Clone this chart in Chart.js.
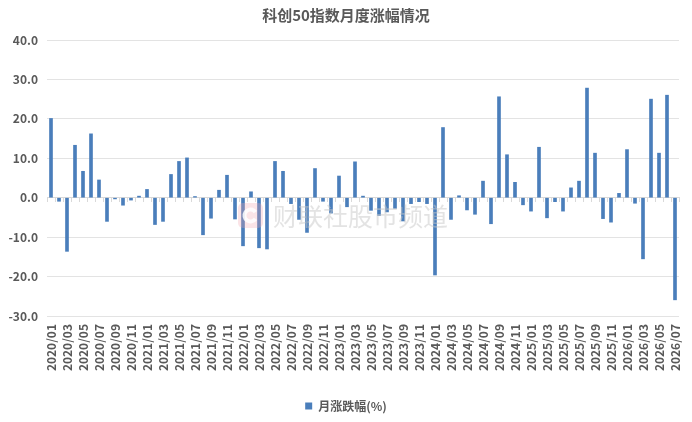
<!DOCTYPE html>
<html>
<head>
<meta charset="utf-8">
<script src="https://cdn.jsdelivr.net/npm/chart.js@4.4.1/dist/chart.umd.min.js"></script>
<style>
  html, body { margin: 0; padding: 0; background: #fff; }
  #wrap { width: 692px; height: 422px; position: relative; }
</style>
</head>
<body>
<div id="wrap"><canvas id="myChart"></canvas></div>
<script>
const months = [
  "2020/01", "2020/02", "2020/03", "2020/04", "2020/05", "2020/06", "2020/07", "2020/08", "2020/09", "2020/10", "2020/11", "2020/12",
  "2021/01", "2021/02", "2021/03", "2021/04", "2021/05", "2021/06", "2021/07", "2021/08", "2021/09", "2021/10", "2021/11", "2021/12",
  "2022/01", "2022/02", "2022/03", "2022/04", "2022/05", "2022/06", "2022/07", "2022/08", "2022/09", "2022/10", "2022/11", "2022/12",
  "2023/01", "2023/02", "2023/03", "2023/04", "2023/05", "2023/06", "2023/07", "2023/08", "2023/09", "2023/10", "2023/11", "2023/12",
  "2024/01", "2024/02", "2024/03", "2024/04", "2024/05", "2024/06", "2024/07", "2024/08", "2024/09", "2024/10", "2024/11", "2024/12",
  "2025/01", "2025/02", "2025/03", "2025/04", "2025/05", "2025/06", "2025/07", "2025/08", "2025/09", "2025/10", "2025/11", "2025/12",
  "2026/01", "2026/02", "2026/03", "2026/04", "2026/05", "2026/06", "2026/07",
];

// monthly change, %
const monthlyChange = [
  20.1, -0.9, -13.6, 13.3, 6.7, 16.2, 4.5, -6.0, -0.3, -1.9, -0.6, 0.4,
  2.1, -6.8, -6.0, 5.9, 9.2, 10.1, 0.3, -9.4, -5.2, 1.9, 5.7, -5.4,
  -12.2, 1.5, -12.7, -13.0, 9.2, 6.7, -1.5, -5.5, -8.8, 7.4, -0.9, -3.9,
  5.5, -2.3, 9.1, 0.4, -3.2, -4.5, -3.6, -2.7, -5.9, -1.5, -1.0, -1.5,
  -19.6, 17.8, -5.5, 0.5, -3.1, -4.2, 4.2, -6.6, 25.6, 10.9, 3.9, -1.8,
  -3.4, 12.8, -5.1, -1.0, -3.4, 2.5, 4.2, 27.8, 11.3, -5.3, -6.2, 1.1,
  12.2, -1.4, -15.5, 25.0, 11.3, 26.0, -25.9,
];

const yTicks = { min: -30, max: 40, step: 10 };

const txtColor = "#595959";
const gridColor = "#e3e3e3";
const barColor = "#4a7ebb";
const cjkFont = "'Noto Sans CJK SC', 'Noto Sans', sans-serif";

// faint watermark like the source image
const watermark = {
  id: "watermark",
  afterDatasetsDraw(chart) {
    const ctx = chart.ctx;
    ctx.save();
    ctx.globalAlpha = 0.3;
    ctx.fillStyle = "#f2a7b0";
    ctx.beginPath();
    ctx.roundRect(238, 203, 25, 25, 5);
    ctx.fill();
    ctx.globalAlpha = 1;
    ctx.strokeStyle = "rgba(255,255,255,0.85)";
    ctx.lineWidth = 4;
    ctx.beginPath();
    ctx.arc(250.5, 215.5, 6, 0.6, Math.PI * 2 - 0.6);
    ctx.stroke();
    ctx.fillStyle = "rgba(200,200,200,0.5)";
    ctx.font = "25px " + cjkFont;
    ctx.textBaseline = "middle";
    ctx.fillText("财联社股市频道", 273, 216);
    ctx.restore();
  },
};

document.addEventListener("DOMContentLoaded", () => {
  new Chart("myChart", {
    type: "bar",
    data: {
      labels: months,
      datasets: [
        {
          label: "月涨跌幅(%)",
          data: monthlyChange,
          backgroundColor: barColor,
          borderWidth: 0,
          barThickness: 3,
        },
      ],
    },
    options: {
      animation: false,
      responsive: true,
      maintainAspectRatio: false,
      layout: { padding: 0 },
      plugins: {
        title: {
          display: true,
          text: "科创50指数月度涨幅情况",
          color: txtColor,
          font: { family: cjkFont, size: 15, weight: "bold" },
          padding: { top: 6, bottom: 16 },
        },
        legend: {
          position: "bottom",
          labels: {
            color: txtColor,
            font: { family: cjkFont, size: 12, weight: "bold" },
            boxWidth: 7,
            boxHeight: 7,
            padding: 12,
          },
        },
        tooltip: { enabled: false },
      },
      scales: {
        x: {
          grid: { display: false, drawTicks: false },
          border: { display: false },
          ticks: {
            autoSkip: false,
            maxRotation: 90,
            minRotation: 90,
            padding: 8,
            color: txtColor,
            font: { family: cjkFont, size: 12, weight: "bold" },
            callback: (val, i) => (i % 2 === 0 ? months[i] : ""),
          },
          afterFit: (scale) => {
            scale.height = 72;
            scale.paddingLeft = 0;
            scale.paddingRight = 0;
          },
        },
        zeroAxis: {
          type: "category",
          axis: "x",
          position: { y: 0 },
          offset: true,
          grid: {
            offset: true,
            drawOnChartArea: false,
            drawTicks: true,
            tickLength: 4,
            color: "#d9d9d9",
          },
          border: { display: true, color: "#d9d9d9" },
          ticks: { display: false },
          afterFit: (scale) => {
            scale.paddingLeft = 0;
            scale.paddingRight = 0;
          },
        },
        y: {
          min: yTicks.min,
          max: yTicks.max,
          grid: { color: gridColor, drawTicks: false },
          border: { display: false },
          ticks: {
            stepSize: yTicks.step,
            padding: 9,
            color: txtColor,
            font: { family: cjkFont, size: 12, weight: "bold" },
            callback: (v) => v.toFixed(1),
          },
          afterFit: (scale) => {
            scale.width = 47;
          },
        },
        // empty right-hand margin, keeps title/legend centred on the whole canvas
        yRight: {
          axis: "y",
          position: "right",
          min: yTicks.min,
          max: yTicks.max,
          grid: { display: false, drawTicks: false },
          border: { display: false },
          ticks: { display: false },
          afterFit: (scale) => {
            scale.width = 13;
          },
        },
      },
    },
    plugins: [watermark],
  });
});
</script>
</body>
</html>
